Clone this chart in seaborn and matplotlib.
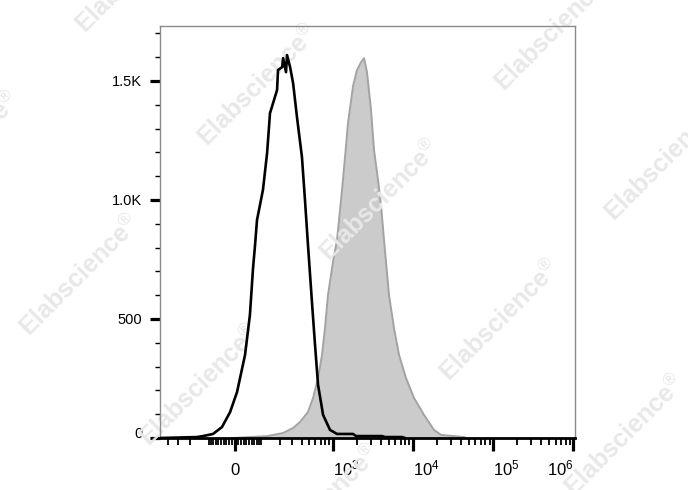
import numpy as np
import pandas as pd
import seaborn as sns
import matplotlib
matplotlib.use("Agg")
import matplotlib.pyplot as plt

# Isotype control (black outline): fluorescence value vs. event count
iso_x = [-511, -159, -127, -81, -46, -17, 7, 35, 53, 65, 73, 81, 107, 127,
         142, 159, 183, 189, 217, 224, 246, 254, 280, 307, 346, 402, 440,
         481, 541, 592, 647, 749, 916, 1122, 1780, 1940, 4100, 4470, 7280, 7940]
iso_y = [0, 4, 8, 17, 46, 109, 193, 349, 517, 714, 811, 916, 1042, 1197,
         1365, 1407, 1462, 1546, 1558, 1596, 1537, 1609, 1558, 1491, 1348, 1180, 1000,
         811, 571, 391, 223, 97, 34, 17, 17, 8, 8, 4, 4, 0]

# Stained sample (gray filled)
stain_x = [-7, 53, 127, 224, 307, 379, 481, 559, 647, 726, 792, 864, 998, 1122,
           1296, 1414, 1540, 1780, 1997, 2243, 2442, 2662, 2987, 3256, 3654, 3982,
           4342, 5009, 5784, 6684, 8172, 10284, 13704, 18264, 22344, 43200, 45780]
stain_y = [0, 4, 8, 21, 42, 67, 109, 168, 252, 349, 462, 601, 739, 832,
           1042, 1180, 1323, 1478, 1546, 1579, 1596, 1537, 1378, 1210, 1084, 979,
           832, 601, 462, 349, 252, 168, 97, 34, 13, 4, 0]

x_ticks = [0, 1e3, 1e4, 1e5, 1e6]
x_ticklabels = ["0", "$10^{3}$", "$10^{4}$", "$10^{5}$", "$10^{6}$"]
y_ticks = [0, 500, 1000, 1500]
y_ticklabels = ["0", "500", "1.0K", "1.5K"]

sns.set_style("ticks")
plt.rcParams["font.family"] = ["Liberation Sans", "DejaVu Sans"]
plt.rcParams["mathtext.default"] = "regular"
plt.rcParams["mathtext.fontset"] = "custom"
plt.rcParams["mathtext.rm"] = "Liberation Sans"
plt.rcParams["mathtext.bf"] = "Liberation Sans:bold"

df_iso = pd.DataFrame({"x": iso_x, "count": iso_y})
df_stain = pd.DataFrame({"x": stain_x, "count": stain_y})

fig = plt.figure(figsize=(6.88, 4.90), dpi=100)
ax = fig.add_axes([160 / 688, 1 - 438 / 490, 415 / 688, 412 / 490])
ax.set_xscale("asinh", linear_width=120)

ax.fill_between(df_stain["x"], df_stain["count"], 0, color="#cbcbcb", lw=0, zorder=1)
sns.lineplot(data=df_stain, x="x", y="count", ax=ax, color="#a3a3a3", lw=1.4,
             estimator=None, sort=False, zorder=1.5)
sns.lineplot(data=df_iso, x="x", y="count", ax=ax, color="black", lw=1.9,
             estimator=None, sort=False, zorder=3)

ax.set_xlim(-511, 1.05e6)
ax.set_ylim(0, 1731)
ax.set_xlabel("")
ax.set_ylabel("")

# y axis ticks
ax.set_yticks(y_ticks, labels=y_ticklabels)
ax.set_yticks(np.arange(100, 1800, 100), minor=True)
ax.tick_params(axis="y", which="major", length=7.2, width=2.3, pad=5.6,
               labelsize=10.5, color="black", labelcolor="black")
ax.tick_params(axis="y", which="minor", length=3.6, width=1.0, color="black")
ax.get_yticklabels()[0].set_va("baseline")

# x axis ticks (biexponential style)
minor = [-400, -300, -200, -100]
minor += list(range(-90, 0, 10)) + list(range(10, 100, 10))
minor += list(range(100, 1000, 100))
for dec in [1e3, 1e4, 1e5]:
    minor += [m * dec for m in range(2, 10)]
ax.set_xticks(x_ticks, labels=x_ticklabels)
ax.set_xticks(minor, minor=True)
ax.tick_params(axis="x", which="major", length=9.4, width=2.3, pad=17.2,
               labelsize=12, color="black", labelcolor="black")
ax.tick_params(axis="x", which="minor", length=4.8, width=1.3, color="black")
xl = ax.get_xticklabels()
for i, lbl in enumerate(xl):
    lbl.set_va("baseline")
    if i == 0:
        lbl.set_ha("center")
    elif i == len(xl) - 1:
        lbl.set_ha("right")
    else:
        lbl.set_ha("left")

for side in ["left", "top", "right"]:
    ax.spines[side].set_color("#8a8a8a")
    ax.spines[side].set_linewidth(1.0)
ax.spines["bottom"].set_color("black")
ax.spines["bottom"].set_linewidth(2.0)

# watermark
marks = [(136, -28), (258, 85), (380, 200), (500, 320), (625, 435),
         (-40, 152), (80, 275), (200, 385), (320, 505),
         (555, 30), (665, 160)]
for px, py in marks:
    ax.text(px / 688, 1 - py / 490, "$\\mathbf{Elabscience}^{\u00ae}$",
            transform=fig.transFigure, rotation=45, ha="center", va="center",
            fontsize=18, color="#e8e8e8", zorder=2, clip_on=False)

fig.savefig("out.png", dpi=100)
